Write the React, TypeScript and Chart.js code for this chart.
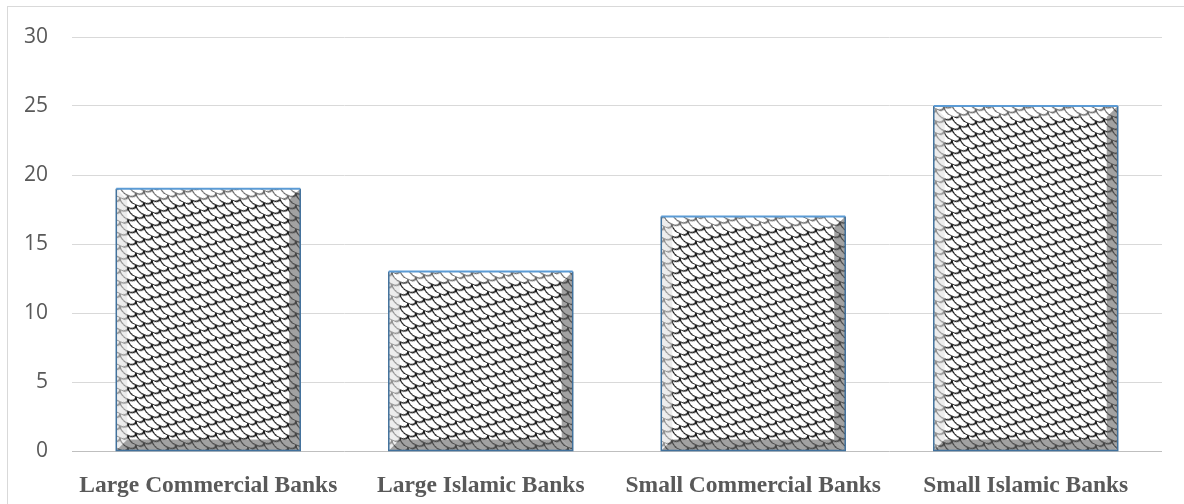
import React, { useEffect, useRef } from "react";
import { Chart, registerables } from "chart.js";

Chart.register(...registerables);

const categories = [
  "Large Commercial Banks",
  "Large Islamic Banks",
  "Small Commercial Banks",
  "Small Islamic Banks",
];
const values = [19, 13, 17, 25];
const yTicks = [0, 5, 10, 15, 20, 25, 30];

function makePattern(): CanvasPattern | string {
  const tile = document.createElement("canvas");
  const w = 16;
  const h = 12;
  tile.width = w;
  tile.height = h * 2;
  const c = tile.getContext("2d");
  if (!c) return "#ffffff";
  c.fillStyle = "#ffffff";
  c.fillRect(0, 0, w, h * 2);
  c.strokeStyle = "#1a1a1a";
  c.lineWidth = 1.5;
  for (let r = 0; r < 5; r++) {
    const ox = (r % 2) * (w / 2);
    for (let k = -1; k <= 1; k++) {
      c.beginPath();
      c.ellipse(ox + k * w, r * (h / 2), w / 2, h / 2, 0, 0, Math.PI);
      c.stroke();
    }
  }
  const p = c.createPattern(tile, "repeat");
  if (!p) return "#ffffff";
  try {
    p.setTransform(new DOMMatrix([1, 0.45, 0, 1, 0, 0]));
  } catch (e) {
    /* ignore */
  }
  return p;
}

const bevelPlugin = {
  id: "bevel",
  afterDatasetsDraw(chart: any) {
    const ctx = chart.ctx;
    const meta = chart.getDatasetMeta(0);
    const d = 11;
    meta.data.forEach((el: any) => {
      const { x, y, base, width } = el.getProps(["x", "y", "base", "width"], true);
      const l = x - width / 2;
      const r = x + width / 2;
      const t = Math.min(y, base);
      const b = Math.max(y, base);
      const poly = (pts: number[][], fill: string) => {
        ctx.beginPath();
        ctx.moveTo(pts[0][0], pts[0][1]);
        for (let i = 1; i < pts.length; i++) ctx.lineTo(pts[i][0], pts[i][1]);
        ctx.closePath();
        ctx.fillStyle = fill;
        ctx.fill();
      };
      ctx.save();
      poly([[l, t], [r, t], [r - d, t + d], [l + d, t + d]], "rgba(255,255,255,0.35)");
      poly([[l, t], [l + d, t + d], [l + d, b - d], [l, b]], "rgba(225,225,225,0.6)");
      poly([[r, t], [r, b], [r - d, b - d], [r - d, t + d]], "rgba(100,100,100,0.6)");
      poly([[l, b], [l + d, b - d], [r - d, b - d], [r, b]], "rgba(100,100,100,0.6)");
      ctx.lineWidth = 1.5;
      ctx.strokeStyle = "#41719c";
      ctx.beginPath();
      ctx.moveTo(l, t);
      ctx.lineTo(l, b);
      ctx.lineTo(r, b);
      ctx.lineTo(r, t);
      ctx.stroke();
      ctx.lineWidth = 2;
      ctx.strokeStyle = "#5b9bd5";
      ctx.beginPath();
      ctx.moveTo(l, t);
      ctx.lineTo(r, t);
      ctx.stroke();
      ctx.restore();
    });
  },
};

export default function App() {
  const ref = useRef<HTMLCanvasElement>(null);
  useEffect(() => {
    if (!ref.current) return;
    const pattern = makePattern();
    const chart = new Chart(ref.current, {
      type: "bar",
      data: {
        labels: categories,
        datasets: [
          {
            data: values,
            backgroundColor: pattern as any,
            borderWidth: 0,
            barPercentage: 0.675,
            categoryPercentage: 1,
          },
        ],
      },
      options: {
        responsive: false,
        animation: false,
        devicePixelRatio: 1,
        layout: { padding: { left: 0, top: 37, right: 22, bottom: 0 } },
        plugins: { legend: { display: false }, tooltip: { enabled: false } },
        scales: {
          x: {
            grid: { display: false },
            border: { display: false },
            ticks: {
              color: "#595959",
              padding: 13,
              maxRotation: 0,
              autoSkip: false,
              font: { family: "'Liberation Serif', 'Times New Roman', serif", size: 23.5, weight: "bold" },
            },
            afterFit: (s: any) => {
              s.height = 53;
            },
          },
          y: {
            min: 0,
            max: 30,
            afterBuildTicks: (s: any) => {
              s.ticks = yTicks.map((v) => ({ value: v }));
            },
            grid: {
              drawTicks: false,
              color: (c: any) => (c.tick && c.tick.value === 0 ? "#bfbfbf" : "#d9d9d9"),
              lineWidth: 1,
            },
            border: { display: false },
            ticks: {
              color: "#595959",
              padding: 24,
              font: { family: "'Open Sans', sans-serif", size: 21 },
            },
            afterFit: (s: any) => {
              s.width = 72;
            },
          },
        },
      },
      plugins: [bevelPlugin],
    });
    return () => chart.destroy();
  }, []);
  return (
    <div style={{ position: "fixed", left: 0, top: 0, width: 1184, height: 504, overflow: "hidden", background: "#fff" }}>
      <div
        style={{
          position: "absolute",
          left: 7,
          top: 6,
          width: 1200,
          height: 520,
          border: "1px solid #d9d9d9",
          boxSizing: "border-box",
        }}
      />
      <canvas ref={ref} width={1184} height={504} style={{ position: "absolute", left: 0, top: 0 }} />
    </div>
  );
}
